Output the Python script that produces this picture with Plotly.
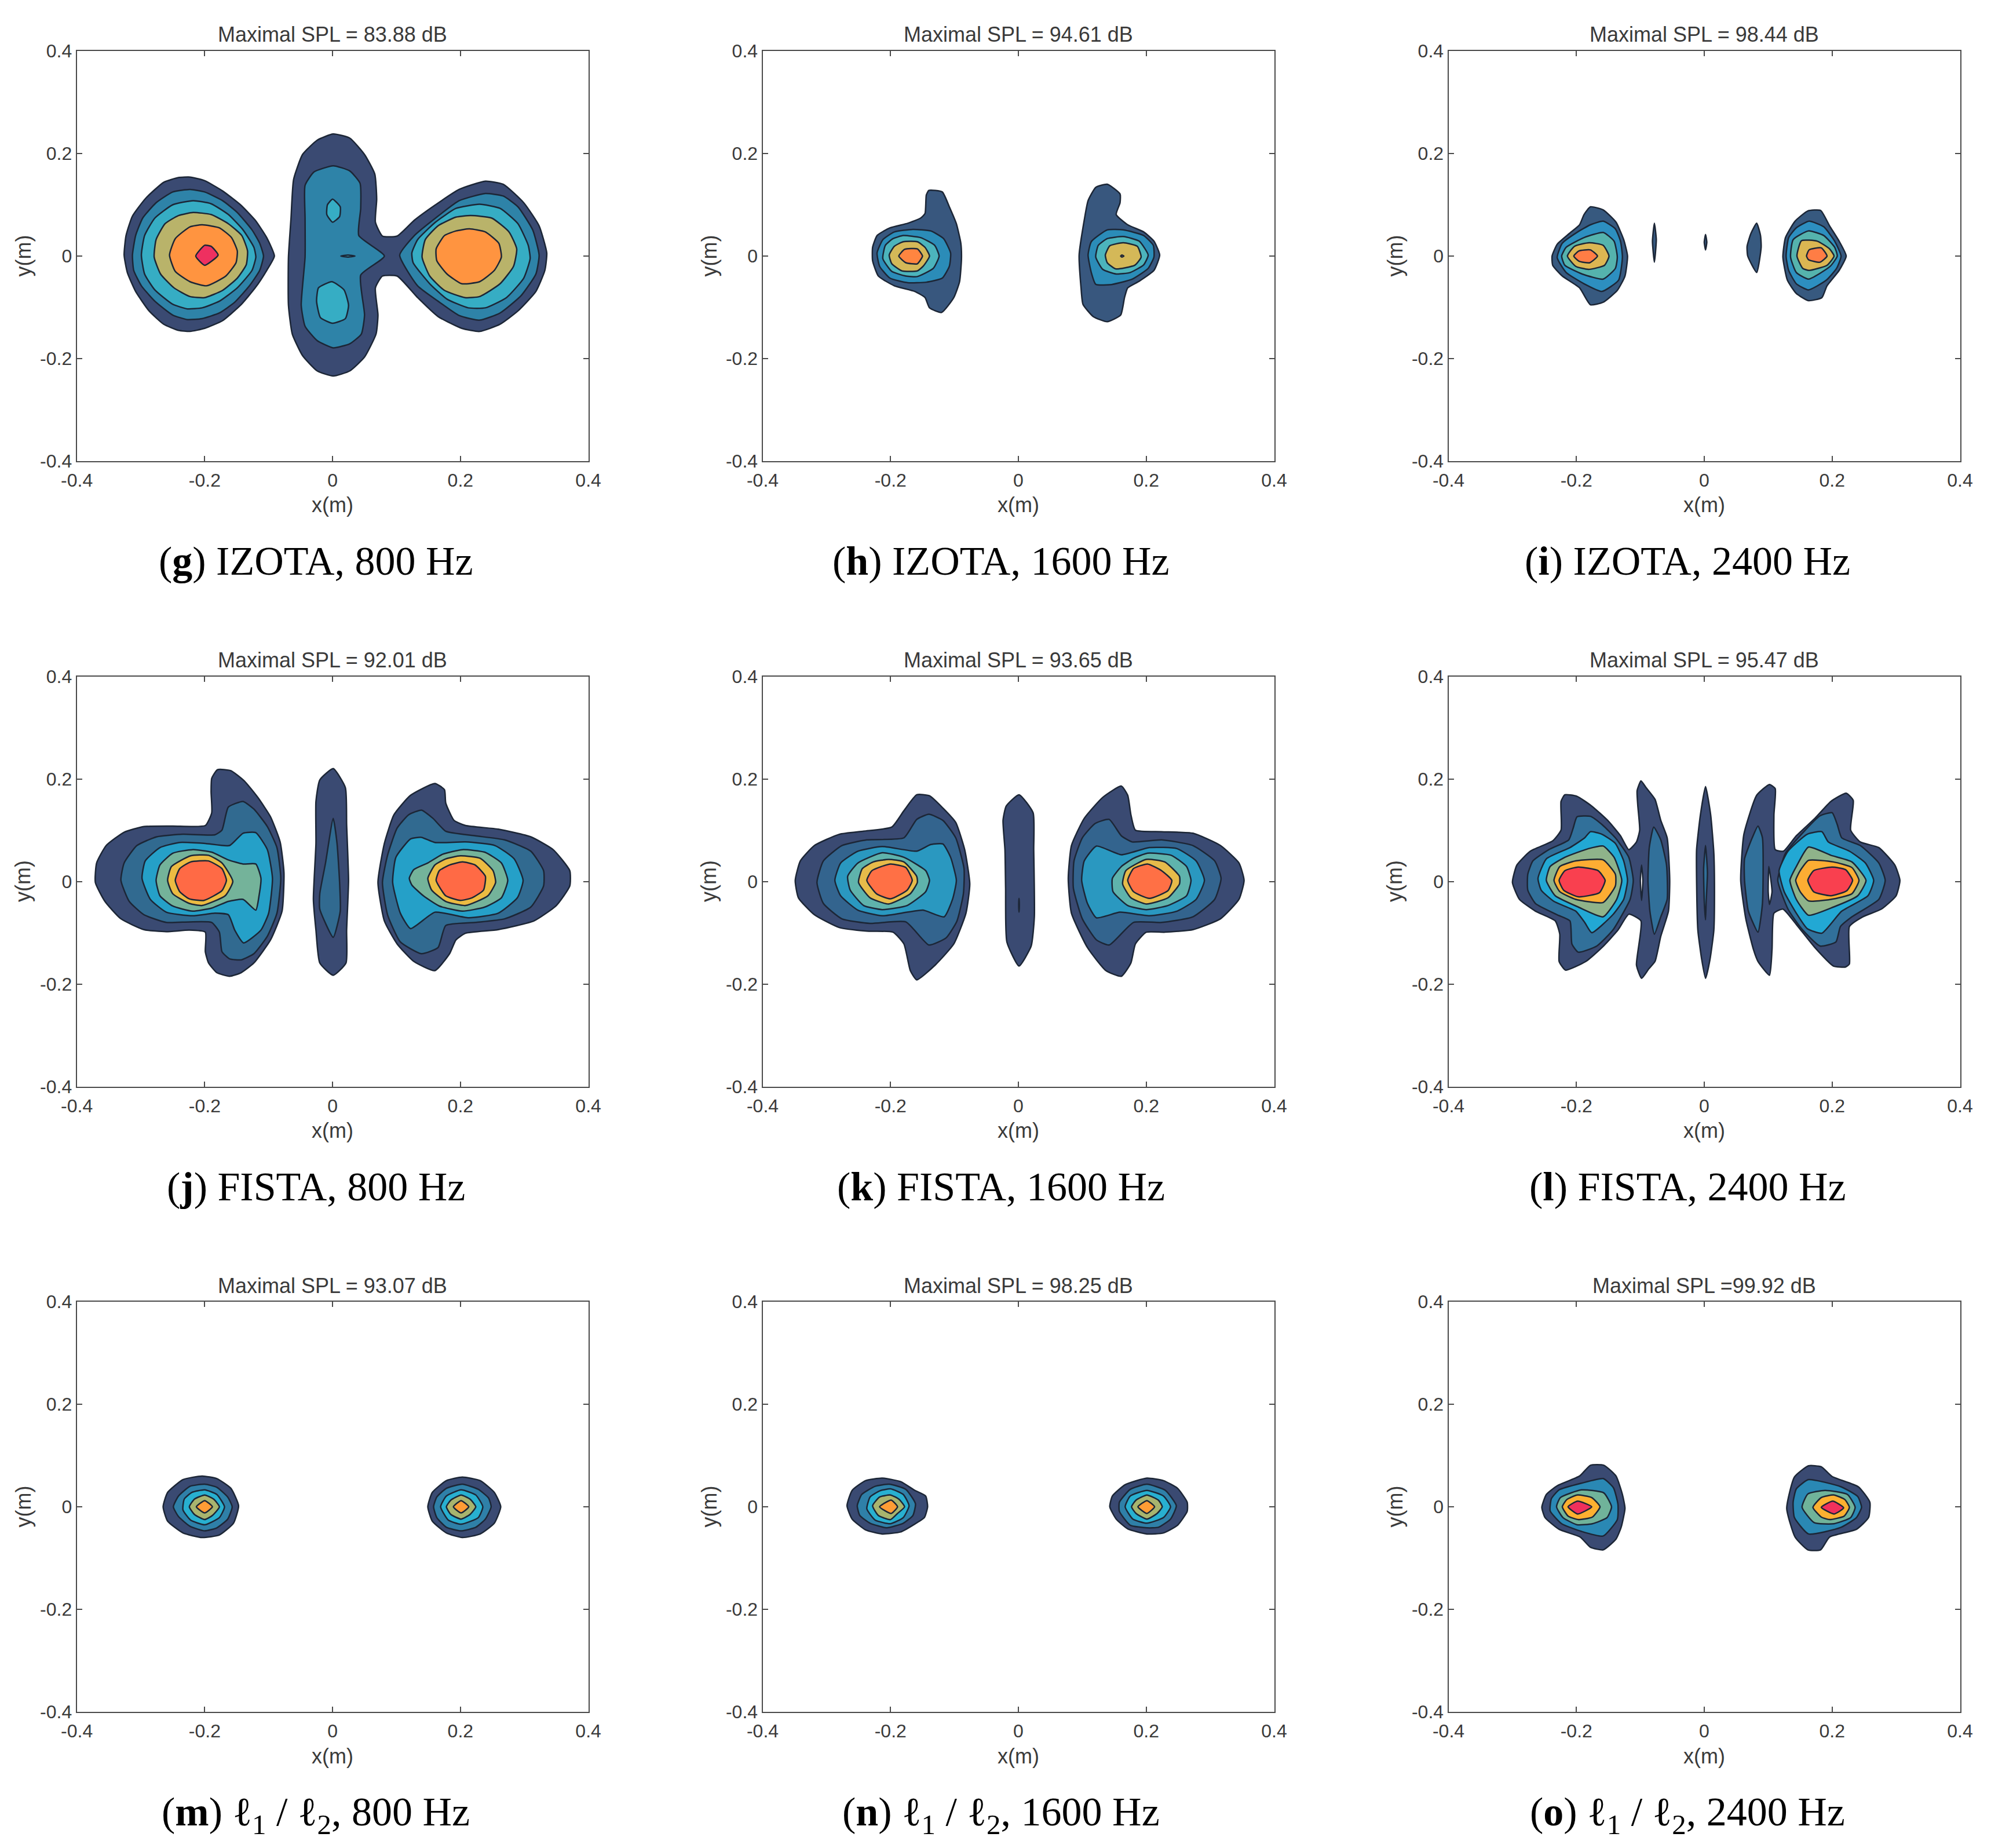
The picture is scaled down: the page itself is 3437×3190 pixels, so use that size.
import plotly.graph_objects as go

TICK_VALUES = [-0.4, -0.2, 0, 0.2, 0.4]
TICK_LABELS = ["-0.4", "-0.2", "0", "0.2", "0.4"]
SPL_TITLES = ["Maximal SPL = 83.88 dB", "Maximal SPL = 94.61 dB", "Maximal SPL = 98.44 dB",
              "Maximal SPL = 92.01 dB", "Maximal SPL = 93.65 dB", "Maximal SPL = 95.47 dB",
              "Maximal SPL = 93.07 dB", "Maximal SPL = 98.25 dB", "Maximal SPL =99.92 dB"]
L12 = "\u2113<sub>1</sub> / \u2113<sub>2</sub>"
CAPTIONS = ["(<b>g</b>) IZOTA, 800 Hz", "(<b>h</b>) IZOTA, 1600 Hz", "(<b>i</b>) IZOTA, 2400 Hz",
            "(<b>j</b>) FISTA, 800 Hz", "(<b>k</b>) FISTA, 1600 Hz", "(<b>l</b>) FISTA, 2400 Hz",
            f"(<b>m</b>) {L12}, 800 Hz", f"(<b>n</b>) {L12}, 1600 Hz", f"(<b>o</b>) {L12}, 2400 Hz"]

# Colours of the filled contour levels, lowest level first; -1 means a hole
G_COLORS = ["#3a4a72", "#2e83a8", "#36adc4", "#b9b36a", "#ff9440", "#ee3060"]
H_COLORS = ["#38577e", "#2b8cb8", "#4cb4bc", "#d4b858", "#ff8540"]
I_COLORS = ["#37597f", "#2d8fc0", "#55b3ad", "#dcb652", "#ff7d45"]
J_COLORS = ["#3a4a72", "#316a90", "#25a0c8", "#74b39a", "#ecbb42", "#ff6a45"]
K_COLORS = ["#3a4a72", "#33648e", "#2a98c0", "#5fb3ac", "#e6bb4a", "#ff7045"]
L_COLORS = ["#3a4a72", "#31709a", "#22a8d4", "#8fb38a", "#fdad33", "#f9404f"]
M_COLORS = ["#3a4a72", "#2f80a8", "#28b0d0", "#a8b46e", "#ff9c35"]
N_COLORS = ["#3a4a72", "#2f80a8", "#28b0d0", "#a8b46e", "#ff9c35"]
O_COLORS = ["#3a4a72", "#2a88b4", "#70b39a", "#fdb030", "#f0305c"]

# Contour regions: (level, x in metres, y in metres)
G_REGIONS = [
 (0,[-.241,-.223,-.200,-.172,-.144,-.121,-.103,-.091,-.103,-.121,-.144,-.172,-.200,-.223,-.241,-.264,-.287,-.308,-.321,-.326,-.323,-.313,-.292,-.264],
    [.153,.154,.147,.127,.100,.070,.036,0,-.028,-.062,-.096,-.126,-.141,-.147,-.145,-.133,-.107,-.069,-.032,.002,.040,.078,.113,.144]),
 (1,[-.223,-.200,-.172,-.149,-.126,-.114,-.108,-.114,-.130,-.153,-.177,-.204,-.227,-.250,-.278,-.299,-.311,-.313,-.308,-.297,-.276,-.250],
    [.130,.125,.108,.085,.051,.025,0,-.028,-.058,-.090,-.111,-.122,-.124,-.115,-.088,-.058,-.028,.002,.040,.074,.104,.125]),
 (2,[-.218,-.190,-.163,-.140,-.123,-.120,-.126,-.149,-.177,-.204,-.227,-.250,-.278,-.294,-.299,-.294,-.278,-.250],
    [.108,.102,.081,.051,.017,-.002,-.028,-.062,-.088,-.101,-.103,-.094,-.066,-.035,.002,.040,.074,.100]),
 (3,[-.218,-.190,-.163,-.142,-.133,-.135,-.149,-.172,-.200,-.223,-.248,-.269,-.279,-.276,-.262,-.241],
    [.085,.081,.063,.040,.010,-.017,-.043,-.067,-.081,-.079,-.062,-.035,-.002,.032,.063,.079]),
 (4,[-.204,-.177,-.158,-.149,-.151,-.167,-.197,-.223,-.246,-.255,-.246,-.223],
    [.061,.055,.036,.010,-.013,-.039,-.058,-.050,-.030,.002,.034,.057]),
 (5,[-.200,-.190,-.179,-.200,-.214],[.021,.019,.002,-.018,0]),
 (0,[.001,.027,.050,.066,.069,.067,.078,.101,.128,.161,.198,.239,.267,.299,.323,.335,.332,.318,.290,.262,.230,.202,.165,.133,.101,.078,.067,.071,.068,.050,.027,.001,-.024,-.047,-.063,-.069,-.069,-.065,-.061,-.047,-.024],
    [.238,.230,.198,.160,.111,.066,.039,.039,.070,.100,.130,.146,.140,.104,.059,.006,-.028,-.069,-.107,-.133,-.147,-.141,-.118,-.081,-.039,-.039,-.062,-.115,-.152,-.197,-.224,-.234,-.224,-.194,-.152,-.096,-.002,.074,.149,.198,.226]),
 (1,[.001,.027,.043,.044,.041,.081,.044,.050,.045,.027,.001,-.024,-.043,-.049,-.043,-.043,-.043,-.029],
    [.176,.166,.142,.093,.040,0,-.037,-.115,-.152,-.171,-.179,-.165,-.137,-.096,-.002,.074,.138,.164]),
 (2,[0,.012,.011,0,-.009,-.008],[.111,.096,.077,.066,.081,.100]),
 (2,[-.001,.018,.025,.020,0,-.019,-.025,-.022],[-.050,-.066,-.096,-.122,-.131,-.120,-.088,-.062]),
 (2,[.013,.024,.035,.024],[0,.002,0,-.002]),
 (1,[.239,.267,.290,.313,.323,.318,.295,.262,.230,.198,.165,.133,.105,.128,.161,.198],
    [.122,.117,.096,.051,.002,-.035,-.077,-.111,-.125,-.116,-.088,-.058,.002,.040,.074,.108]),
 (2,[.230,.262,.290,.306,.309,.299,.272,.239,.212,.179,.152,.126,.124,.133,.161,.193],
    [.101,.093,.063,.021,-.005,-.043,-.081,-.101,-.101,-.084,-.054,-.013,.006,.032,.066,.093]),
 (3,[.216,.249,.276,.288,.283,.262,.230,.207,.175,.152,.140,.145,.165,.193],
    [.079,.074,.047,.014,-.020,-.054,-.079,-.081,-.067,-.039,-.002,.032,.059,.076]),
 (4,[.214,.239,.260,.264,.253,.230,.202,.179,.163,.162,.175,.193],
    [.053,.047,.025,-.002,-.028,-.050,-.054,-.035,-.009,.014,.040,.049]),
]

H_REGIONS = [
 (0,[-.140,-.119,-.108,-.097,-.090,-.089,-.092,-.101,-.120,-.139,-.146,-.162,-.194,-.219,-.228,-.228,-.221,-.201,-.173,-.153,-.146,-.144],
    [.128,.125,.096,.063,.025,-.005,-.050,-.081,-.110,-.101,-.081,-.069,-.058,-.039,-.009,.017,.040,.055,.064,.074,.083,.119]),
 (1,[-.165,-.137,-.117,-.106,-.108,-.119,-.144,-.173,-.201,-.217,-.221,-.212,-.194],
    [.052,.049,.034,.006,-.020,-.043,-.051,-.052,-.043,-.020,.006,.032,.047]),
 (2,[-.180,-.153,-.131,-.124,-.133,-.158,-.176,-.198,-.212,-.208,-.196],
    [.040,.036,.021,0,-.024,-.040,-.039,-.030,-.005,.021,.034]),
 (3,[-.180,-.158,-.146,-.139,-.149,-.158,-.182,-.198,-.202,-.194],
    [.028,.028,.017,0,-.020,-.029,-.029,-.015,.002,.019]),
 (4,[-.178,-.158,-.150,-.158,-.176,-.187],[.013,.014,0,-.015,-.013,0]),
 (0,[.139,.159,.159,.153,.171,.196,.212,.221,.212,.189,.171,.166,.160,.139,.117,.101,.098,.095,.103,.109,.121],
    [.140,.121,.104,.081,.061,.047,.029,.002,-.028,-.049,-.062,-.081,-.115,-.128,-.118,-.094,-.062,.002,.070,.108,.134]),
 (1,[.139,.164,.196,.211,.212,.203,.178,.143,.121,.114,.109,.114],
    [.051,.051,.040,.021,-.002,-.024,-.045,-.056,-.055,-.032,.002,.028]),
 (2,[.139,.164,.189,.203,.196,.175,.153,.132,.121,.125],
    [.034,.038,.029,.002,-.017,-.032,-.035,-.026,-.002,.021]),
 (3,[.143,.164,.186,.192,.182,.152,.139,.136],[.020,.026,.019,-.002,-.018,-.025,-.013,.002]),
 (4,[.160,.162,.165,.162],[0,.002,0,-.002]),
]

I_REGIONS = [
 (0,[-.178,-.158,-.138,-.126,-.120,-.124,-.136,-.158,-.178,-.195,-.222,-.237,-.238,-.230,-.211,-.195,-.188],
    [.096,.090,.066,.032,0,-.039,-.067,-.090,-.095,-.062,-.039,-.018,0,.023,.044,.061,.081]),
 (1,[-.158,-.139,-.131,-.128,-.134,-.160,-.188,-.216,-.230,-.222,-.198,-.178],
    [.068,.053,.029,-.002,-.047,-.069,-.054,-.032,-.003,.025,.047,.061]),
 (2,[-.158,-.141,-.136,-.139,-.158,-.191,-.218,-.223,-.216,-.188],
    [.046,.029,-.002,-.024,-.045,-.035,-.018,0,.017,.036]),
 (3,[-.180,-.158,-.149,-.156,-.181,-.201,-.214,-.203],[.026,.021,0,-.018,-.026,-.020,0,.019]),
 (4,[-.178,-.167,-.179,-.196,-.204,-.196],[.012,0,-.013,-.010,0,.010]),
 (0,[-.078,-.075,-.078,-.081],[.064,.032,-.012,.029]),
 (0,[.002,.004,.002,0],[.042,.027,.012,.027]),
 (0,[.082,.088,.089,.082,.068,.067,.073],[.064,.040,.017,-.032,0,.019,.044]),
 (0,[.162,.182,.196,.211,.222,.211,.192,.184,.163,.144,.130,.123,.127,.142],
    [.088,.089,.059,.029,0,-.028,-.058,-.081,-.087,-.073,-.047,-.002,.036,.068]),
 (1,[.164,.187,.204,.214,.207,.191,.163,.144,.132,.128,.132,.144],
    [.068,.057,.029,0,-.024,-.047,-.066,-.054,-.028,0,.036,.055]),
 (2,[.163,.187,.204,.208,.197,.163,.144,.135,.139],[.049,.040,.017,0,-.020,-.045,-.032,-.002,.032]),
 (3,[.152,.177,.196,.203,.192,.164,.154,.145],[.030,.029,.014,0,-.018,-.028,-.024,0]),
 (4,[.164,.183,.192,.181,.163,.160],[.012,.016,0,-.012,-.007,0]),
]

J_REGIONS = [
 (0,[-.180,-.159,-.138,-.117,-.097,-.082,-.076,-.079,-.097,-.123,-.143,-.161,-.181,-.194,-.199,-.199,-.224,-.260,-.295,-.331,-.356,-.371,-.369,-.354,-.326,-.295,-.250,-.199,-.189,-.190,-.189],
    [.218,.216,.196,.164,.126,.077,.017,-.058,-.114,-.159,-.178,-.185,-.178,-.159,-.137,-.099,-.095,-.098,-.094,-.073,-.039,-.002,.036,.070,.096,.107,.108,.109,.134,.175,.201]),
 (1,[-.140,-.123,-.102,-.087,-.081,-.087,-.102,-.123,-.143,-.161,-.173,-.177,-.189,-.224,-.260,-.295,-.318,-.331,-.326,-.306,-.275,-.234,-.184,-.173,-.163],
    [.156,.141,.107,.066,.006,-.062,-.107,-.141,-.153,-.151,-.137,-.099,-.080,-.079,-.080,-.065,-.039,.002,.036,.070,.087,.092,.091,.100,.145]),
 (2,[-.140,-.120,-.102,-.094,-.100,-.112,-.139,-.153,-.163,-.184,-.219,-.260,-.285,-.298,-.293,-.270,-.239,-.199,-.161],
    [.094,.095,.062,.006,-.062,-.095,-.120,-.095,-.065,-.062,-.067,-.060,-.035,.006,.040,.066,.076,.074,.070]),
 (3,[-.219,-.189,-.163,-.140,-.120,-.112,-.115,-.120,-.140,-.163,-.189,-.219,-.250,-.270,-.276,-.270,-.250],
    [.062,.057,.042,.034,.034,.006,-.028,-.056,-.035,-.039,-.052,-.058,-.048,-.028,.002,.032,.055]),
 (4,[-.222,-.194,-.173,-.156,-.168,-.204,-.224,-.250,-.258,-.252],[.050,.051,.036,0,-.028,-.047,-.043,-.024,.002,.029]),
 (5,[-.222,-.194,-.173,-.166,-.173,-.201,-.224,-.239,-.246,-.239],[.038,.040,.025,.002,-.018,-.037,-.034,-.020,.002,.025]),
 (0,[.001,.020,.022,.025,.022,.021,.001,-.020,-.026,-.030,-.026,-.026,-.020],
    [.220,.183,.111,.002,-.095,-.159,-.183,-.159,-.095,-.035,.074,.156,.198]),
 (1,[.001,.007,.011,.012,.001,-.020,-.020,-.011],[.123,.074,-.002,-.058,-.109,-.054,-.024,.036]),
 (0,[.160,.175,.177,.190,.208,.259,.310,.345,.371,.371,.350,.315,.259,.208,.193,.183,.160,.127,.101,.081,.071,.081,.096,.122],
    [.191,.179,.153,.119,.109,.102,.087,.062,.021,-.009,-.047,-.077,-.094,-.101,-.114,-.141,-.174,-.156,-.122,-.077,-.002,.074,.130,.168]),
 (1,[.139,.157,.177,.223,.269,.310,.330,.330,.310,.269,.223,.177,.165,.139,.106,.086,.078,.086,.101,.119],
    [.139,.123,.098,.089,.081,.059,.021,-.009,-.050,-.073,-.080,-.086,-.129,-.141,-.118,-.065,-.002,.051,.104,.130]),
 (2,[.122,.139,.160,.208,.254,.284,.298,.289,.259,.213,.160,.122,.106,.094,.099],
    [.083,.086,.076,.077,.070,.044,.002,-.032,-.062,-.071,-.060,-.092,-.062,-.002,.047]),
 (3,[.203,.238,.264,.274,.264,.238,.203,.167,.142,.124,.120,.127,.149,.172],
    [.062,.057,.036,.002,-.032,-.050,-.058,-.048,-.028,-.007,.006,.023,.036,.053]),
 (4,[.200,.231,.251,.255,.243,.208,.177,.155,.149,.160,.177],[.050,.045,.021,-.002,-.028,-.047,-.039,-.017,.006,.032,.044]),
 (5,[.203,.223,.239,.236,.218,.200,.177,.162,.167,.183],[.038,.032,.010,-.017,-.032,-.037,-.028,.002,.021,.032]),
]

K_REGIONS = [
 (0,[-.159,-.139,-.118,-.098,-.084,-.076,-.082,-.101,-.130,-.159,-.169,-.179,-.196,-.237,-.280,-.319,-.344,-.349,-.341,-.319,-.280,-.242,-.198,-.179],
    [.169,.167,.143,.115,.062,-.005,-.062,-.122,-.163,-.192,-.174,-.122,-.099,-.097,-.090,-.065,-.032,.002,.040,.070,.092,.098,.106,.138]),
 (1,[-.140,-.118,-.098,-.085,-.086,-.096,-.113,-.140,-.176,-.232,-.276,-.305,-.315,-.305,-.276,-.237,-.179,-.159],
    [.131,.119,.085,.025,-.024,-.077,-.110,-.124,-.079,-.082,-.073,-.043,-.002,.040,.070,.081,.085,.121]),
 (2,[-.137,-.118,-.106,-.097,-.103,-.116,-.149,-.174,-.213,-.251,-.278,-.287,-.278,-.251,-.213,-.159],
    [.072,.073,.047,.002,-.035,-.069,-.056,-.060,-.067,-.056,-.028,.002,.036,.059,.068,.059]),
 (3,[-.213,-.179,-.145,-.139,-.145,-.174,-.213,-.242,-.263,-.267,-.251],[.056,.047,.021,.002,-.020,-.047,-.055,-.047,-.017,.010,.036]),
 (4,[-.203,-.179,-.159,-.158,-.169,-.203,-.232,-.250,-.244,-.227],[.043,.038,.010,-.002,-.024,-.044,-.032,-.002,.025,.038]),
 (5,[-.200,-.176,-.166,-.174,-.200,-.222,-.237,-.229],[.034,.027,.002,-.017,-.034,-.024,.002,.021]),
 (0,[.001,.023,.024,.025,.020,.001,-.018,-.020,-.021,-.024,-.019],[.169,.134,.062,-.069,-.126,-.165,-.118,-.013,.062,.119,.147]),
 (1,[.001,.0015,.001,.0005],[-.033,-.046,-.060,-.046]),
 (0,[.161,.171,.176,.183,.224,.273,.316,.345,.353,.345,.316,.273,.229,.200,.183,.176,.161,.137,.108,.083,.078,.083,.103,.132],
    [.186,.168,.130,.100,.097,.094,.070,.036,.002,-.035,-.073,-.094,-.099,-.099,-.122,-.159,-.185,-.174,-.129,-.062,.006,.070,.123,.164]),
 (1,[.142,.161,.178,.224,.273,.307,.317,.307,.273,.224,.180,.142,.122,.100,.086,.087,.100,.120],
    [.121,.089,.077,.081,.070,.040,.006,-.035,-.069,-.080,-.080,-.124,-.114,-.073,-.013,.040,.085,.113]),
 (2,[.122,.161,.205,.248,.278,.291,.278,.248,.205,.159,.122,.108,.099,.103],
    [.069,.052,.066,.064,.040,.002,-.035,-.058,-.067,-.060,-.071,-.043,.002,.040]),
 (3,[.202,.239,.263,.270,.263,.234,.200,.171,.148,.147,.161,.180],[.055,.051,.029,.002,-.028,-.047,-.055,-.047,-.020,.006,.029,.045]),
 (4,[.200,.229,.252,.252,.234,.200,.176,.163,.168],[.043,.038,.010,-.005,-.032,-.044,-.032,-.005,.021]),
 (5,[.202,.224,.240,.234,.205,.180,.171,.180],[.034,.021,.002,-.018,-.033,-.020,.002,.025]),
]

L_REGIONS = [
 (0,[-.218,-.199,-.176,-.151,-.131,-.118,-.106,-.101,-.104,-.105,-.099,-.091,-.077,-.068,-.058,-.054,-.056,-.068,-.077,-.087,-.098,-.106,-.099,-.118,-.135,-.160,-.185,-.217,-.227,-.226,-.233,-.264,-.289,-.300,-.293,-.272,-.237,-.224,-.224],
    [.169,.166,.147,.119,.089,.062,.077,.100,.149,.177,.196,.183,.160,.119,.085,.002,-.058,-.107,-.156,-.171,-.189,-.163,-.077,-.064,-.095,-.129,-.156,-.173,-.156,-.103,-.077,-.058,-.035,-.002,.032,.059,.079,.100,.156]),
 (1,[-.199,-.178,-.160,-.139,-.118,-.111,-.116,-.143,-.168,-.197,-.207,-.210,-.230,-.264,-.276,-.276,-.268,-.243,-.212,-.205],
    [.126,.127,.111,.085,.047,.002,-.035,-.095,-.126,-.138,-.122,-.077,-.065,-.043,-.017,.014,.040,.062,.081,.104]),
 (2,[-.178,-.160,-.139,-.126,-.120,-.126,-.143,-.176,-.187,-.201,-.235,-.255,-.260,-.247,-.210,-.187],
    [.097,.092,.074,.040,.002,-.035,-.065,-.100,-.080,-.058,-.039,-.017,.006,.044,.066,.085]),
 (3,[-.158,-.141,-.129,-.137,-.158,-.197,-.233,-.247,-.241,-.218,-.181],[.069,.047,.002,-.035,-.069,-.050,-.028,.002,.029,.047,.064]),
 (4,[-.158,-.139,-.139,-.158,-.201,-.226,-.235,-.226,-.201],[.042,.014,-.009,-.041,-.035,-.020,.002,.029,.040]),
 (5,[-.197,-.166,-.155,-.164,-.197,-.220,-.227,-.218],[.028,.021,.002,-.022,-.030,-.017,.002,.021]),
 (-1,[-.098,-.096,-.098,-.100],[.032,.002,-.037,.002]),
 (1,[-.079,-.068,-.059,-.058,-.068,-.078,-.085,-.088,-.086],[.106,.081,.032,-.035,-.069,-.103,-.058,.002,.066]),
 (0,[.002,.010,.015,.016,.015,.009,.002,-.004,-.010,-.012,-.012,-.006],[.185,.130,.055,-.020,-.095,-.152,-.189,-.152,-.095,.002,.062,.130]),
 (1,[.002,.005,.003,.002,0,-.001],[.070,.017,-.039,-.075,-.039,.025]),
 (0,[.102,.111,.109,.111,.124,.144,.173,.198,.222,.233,.229,.244,.273,.298,.306,.300,.277,.248,.227,.227,.221,.202,.173,.144,.123,.109,.106,.102,.084,.077,.065,.057,.062,.082],
    [.189,.181,.130,.062,.059,.089,.123,.156,.172,.158,.100,.077,.066,.032,.002,-.028,-.054,-.069,-.088,-.161,-.167,-.165,-.129,-.084,-.054,-.062,-.133,-.183,-.156,-.133,-.073,.002,.092,.168]),
 (1,[.084,.091,.091,.084,.069,.063,.063,.075],[.108,.085,-.043,-.099,-.058,.002,.044,.085]),
 (-1,[.101,.106,.102,.100],[.029,-.020,-.045,-.020]),
 (1,[.200,.208,.215,.244,.273,.283,.273,.231,.213,.206,.181,.152,.131,.115,.127,.152,.181],
    [.134,.111,.085,.070,.036,.002,-.035,-.069,-.088,-.118,-.126,-.092,-.054,.002,.055,.092,.128]),
 (2,[.184,.194,.227,.252,.265,.256,.215,.184,.161,.144,.125,.117,.131,.161],
    [.097,.077,.059,.036,.002,-.028,-.058,-.101,-.092,-.062,-.020,.021,.059,.092]),
 (3,[.163,.198,.231,.253,.240,.202,.163,.144,.134,.144],[.067,.051,.038,.002,-.028,-.050,-.066,-.035,.002,.029]),
 (4,[.163,.202,.231,.242,.231,.198,.163,.150,.143,.150],[.041,.038,.027,.002,-.024,-.035,-.038,-.020,.002,.021]),
 (5,[.200,.221,.232,.223,.198,.171,.162,.171],[.028,.023,.002,-.018,-.028,-.020,.002,.021]),
]

M_REGIONS = [
 (0,[-.204,-.181,-.159,-.147,-.155,-.177,-.204,-.234,-.258,-.265,-.258,-.234],[.060,.055,.036,.002,-.032,-.055,-.060,-.051,-.028,0,.028,.053]),
 (1,[-.200,-.181,-.164,-.157,-.164,-.181,-.200,-.223,-.241,-.249,-.241,-.223],[.044,.038,.019,0,-.024,-.041,-.047,-.038,-.019,0,.021,.040]),
 (2,[-.200,-.181,-.169,-.177,-.200,-.222,-.234,-.232,-.220],[.033,.024,0,-.021,-.035,-.026,-.006,.015,.028]),
 (3,[-.200,-.186,-.177,-.188,-.200,-.216,-.224,-.216],[.023,.015,0,-.017,-.025,-.015,0,.015]),
 (4,[-.200,-.188,-.200,-.213],[.012,0,-.012,0]),
 (0,[.203,.231,.253,.263,.253,.231,.203,.178,.156,.149,.156,.178],[.058,.051,.028,0,-.032,-.053,-.060,-.051,-.028,0,.028,.051]),
 (1,[.203,.228,.244,.248,.239,.224,.201,.178,.163,.158,.163,.178],[.044,.034,.017,0,-.024,-.040,-.047,-.040,-.021,0,.019,.036]),
 (2,[.201,.224,.235,.228,.201,.181,.169,.178],[.033,.023,0,-.021,-.034,-.026,0,.021]),
 (3,[.201,.215,.224,.215,.201,.185,.178,.185],[.023,.015,0,-.015,-.024,-.015,0,.013]),
 (4,[.201,.213,.201,.189],[.012,0,-.012,0]),
]

N_REGIONS = [
 (0,[-.213,-.184,-.162,-.145,-.142,-.147,-.165,-.184,-.213,-.239,-.260,-.268,-.260,-.239],[.056,.049,.032,.021,0,-.021,-.036,-.049,-.053,-.045,-.024,.002,.032,.051]),
 (1,[-.202,-.176,-.161,-.165,-.180,-.206,-.232,-.248,-.252,-.245,-.224],[.044,.034,.006,-.017,-.032,-.041,-.032,-.017,.002,.024,.040]),
 (2,[-.200,-.180,-.171,-.180,-.200,-.224,-.237,-.232,-.217],[.035,.024,.002,-.021,-.033,-.026,-.004,.019,.031]),
 (3,[-.200,-.187,-.178,-.189,-.200,-.219,-.228,-.217],[.023,.015,0,-.013,-.025,-.017,.002,.019]),
 (4,[-.199,-.189,-.199,-.217],[.013,0,-.013,0]),
 (0,[.201,.227,.249,.264,.264,.249,.227,.201,.171,.153,.143,.147,.167],[.056,.051,.036,.009,-.009,-.036,-.051,-.053,-.043,-.024,0,.021,.043]),
 (1,[.201,.230,.247,.238,.219,.201,.175,.158,.158,.175],[.044,.032,.002,-.024,-.040,-.041,-.036,-.009,.009,.034]),
 (2,[.201,.227,.238,.227,.201,.179,.167,.175],[.032,.021,0,-.021,-.032,-.024,0,.021]),
 (3,[.201,.219,.225,.217,.201,.184,.177,.184],[.023,.013,0,-.013,-.024,-.013,0,.013]),
 (4,[.201,.213,.201,.187],[.012,0,-.013,0]),
]

O_REGIONS = [
 (0,[-.178,-.157,-.138,-.128,-.124,-.130,-.138,-.158,-.178,-.194,-.227,-.249,-.254,-.247,-.230,-.195],
    [.081,.081,.060,.024,-.003,-.040,-.063,-.084,-.079,-.059,-.044,-.021,-.001,.024,.041,.060]),
 (1,[-.158,-.142,-.135,-.136,-.158,-.192,-.223,-.241,-.239,-.227,-.192],[.055,.037,.005,-.025,-.057,-.048,-.033,-.008,.016,.033,.046]),
 (2,[-.192,-.157,-.145,-.152,-.175,-.199,-.221,-.231,-.225],[.033,.027,0,-.021,-.033,-.035,-.021,0,.018]),
 (3,[-.199,-.176,-.163,-.175,-.197,-.213,-.222,-.215],[.023,.018,0,-.020,-.025,-.018,0,.014]),
 (4,[-.198,-.176,-.198,-.213],[.011,0,-.014,0]),
 (0,[.163,.183,.200,.241,.259,.257,.238,.196,.182,.162,.142,.129,.141],[.080,.078,.059,.039,.009,-.021,-.044,-.059,-.084,-.084,-.059,-.003,.058]),
 (1,[.163,.214,.240,.246,.238,.214,.163,.141,.139,.144],[.053,.039,.020,-.001,-.021,-.040,-.053,-.021,.009,.035]),
 (2,[.162,.189,.224,.236,.229,.203,.172,.153],[.025,.032,.024,-.001,-.021,-.033,-.031,-.001]),
 (3,[.183,.203,.220,.227,.219,.196,.183,.170],[.018,.023,.014,-.001,-.018,-.025,-.020,-.001]),
 (4,[.201,.218,.203,.183],[.011,-.002,-.014,-.001]),
]

PANELS = [(G_REGIONS, G_COLORS), (H_REGIONS, H_COLORS), (I_REGIONS, I_COLORS),
          (J_REGIONS, J_COLORS), (K_REGIONS, K_COLORS), (L_REGIONS, L_COLORS),
          (M_REGIONS, M_COLORS), (N_REGIONS, N_COLORS), (O_REGIONS, O_COLORS)]

W, H = 3437, 3190
COL_L = [132.6, 1316.5, 2500.5]
PLOT_W = 883
ROW_T = [88, 1167.5, 2247]
PLOT_H = 708
CAP_X = [545, 1728, 2913]
CAP_Y = [969, 2048, 3133]
AXIS_COL = "#4a4a4a"
TEXT_COL = "#3a3a3a"
EDGE = "#1c2636"

fig = go.Figure()
annotations = []
for i, (regions, colors) in enumerate(PANELS):
    r, c = divmod(i, 3)
    sfx = "" if i == 0 else str(i + 1)
    for level, xs, ys in regions:
        fill = "#ffffff" if level < 0 else colors[level]
        fig.add_trace(go.Scatter(x=xs + xs[:1], y=ys + ys[:1], mode="lines", fill="toself",
                                 fillcolor=fill, line=dict(color=EDGE, width=2.5, shape="spline", smoothing=0.5),
                                 hoverinfo="skip", showlegend=False,
                                 xaxis="x" + sfx, yaxis="y" + sfx))
    common = dict(range=[-0.4, 0.4], tickmode="array", tickvals=TICK_VALUES, ticktext=TICK_LABELS,
                  showgrid=False, zeroline=False, showline=True, mirror="ticks", automargin=False,
                  linecolor=AXIS_COL, linewidth=2, ticks="inside", ticklen=9, tickwidth=2,
                  tickcolor=AXIS_COL, tickfont=dict(family="Liberation Sans", size=32, color=TEXT_COL))
    l, t = COL_L[c], ROW_T[r]
    fig.update_layout({
        "xaxis" + sfx: dict(common, domain=[l / W, (l + PLOT_W) / W], anchor="y" + sfx, ticklabelstandoff=4),
        "yaxis" + sfx: dict(common, domain=[1 - (t + PLOT_H) / H, 1 - t / H], anchor="x" + sfx),
    })
    axis_font = dict(family="Liberation Sans", size=36, color=TEXT_COL)
    annotations.append(dict(text="x(m)", xref="paper", yref="paper", x=(l + PLOT_W / 2) / W,
                            y=1 - (t + PLOT_H + 76) / H, xanchor="center", yanchor="middle",
                            showarrow=False, font=axis_font))
    annotations.append(dict(text="y(m)", xref="paper", yref="paper", x=(l - 93) / W,
                            y=1 - (t + PLOT_H / 2) / H, xanchor="center", yanchor="middle",
                            showarrow=False, textangle=-90, font=axis_font))
    annotations.append(dict(text=SPL_TITLES[i], xref="paper", yref="paper", x=(l + PLOT_W / 2) / W,
                            y=1 - (t - 28) / H, xanchor="center", yanchor="middle", showarrow=False,
                            font=dict(family="Liberation Sans", size=36, color=TEXT_COL)))
    annotations.append(dict(text=CAPTIONS[i], xref="paper", yref="paper", x=CAP_X[c] / W,
                            y=1 - CAP_Y[r] / H, xanchor="center", yanchor="middle", showarrow=False,
                            font=dict(family="Liberation Serif", size=70, color="#000000")))

fig.update_layout(width=W, height=H, autosize=False, margin=dict(l=0, r=0, t=0, b=0),
                  paper_bgcolor="#ffffff", plot_bgcolor="#ffffff", annotations=annotations)
fig.write_html("out.html", post_script="document.body.style.margin='0';",
               config={"displayModeBar": False})
